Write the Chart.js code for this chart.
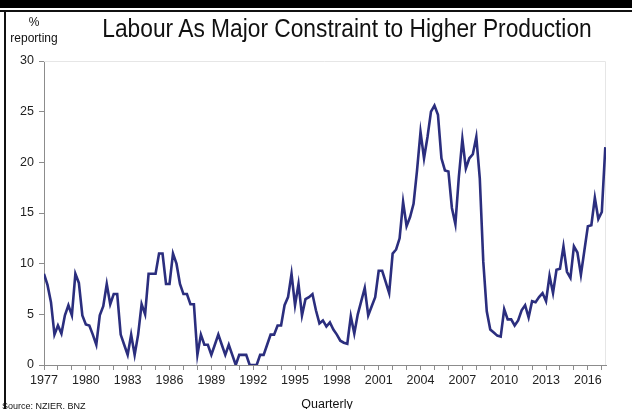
<!DOCTYPE html>
<html>
<head>
<meta charset="utf-8">
<script src="https://cdn.jsdelivr.net/npm/chart.js@4/dist/chart.umd.min.js"></script>
<style>
  html, body { margin: 0; padding: 0; background: #fff; }
  #wrap { position: relative; width: 632px; height: 409px; overflow: hidden; background: #fff;
          font-family: "Liberation Sans", Arial, sans-serif; }
  #chart { position: absolute; left: 0; top: 0; }
  .bar-top { position: absolute; left: 0; top: 0; width: 632px; height: 8px; background: #000; }
  .rule-top { position: absolute; left: 0; top: 10px; width: 632px; height: 2px; background: #111; }
  .rule-left { position: absolute; left: 4px; top: 10px; width: 2px; height: 399px; background: #111; }
  .txt { position: absolute; white-space: nowrap; color: #111; }
  #title { left: 347px; top: 14px; font-size: 25px; transform: translateX(-50%) scaleX(0.91); transform-origin: center; }
  #unit1 { left: 34px; top: 15px; font-size: 12px; transform: translateX(-50%); }
  #unit2 { left: 34px; top: 31px; font-size: 12px; transform: translateX(-50%); }
  #xtitle { left: 327px; top: 397px; font-size: 12.5px; transform: translateX(-50%); }
  #source { left: 2px; top: 401px; font-size: 9px; }
</style>
</head>
<body>
<div id="wrap">
  <canvas id="chart" width="632" height="409"></canvas>
  <div class="bar-top"></div>
  <div class="rule-top"></div>
  <div class="rule-left"></div>
  <div class="txt" id="title">Labour As Major Constraint to Higher Production</div>
  <div class="txt" id="unit1">%</div>
  <div class="txt" id="unit2">reporting</div>
  <div class="txt" id="xtitle">Quarterly</div>
  <div class="txt" id="source">Source: NZIER, BNZ</div>
</div>
<script>
// Quarterly series starting 1977 Q1: % of firms reporting labour as the main constraint
const startYear = 1977;
const labourConstraint = [
  9.0, 7.9, 6.2, 3.0, 3.9, 3.1, 4.9, 5.9, 4.9, 9.0, 8.1, 4.9,
  4.0, 3.9, 3.0, 2.0, 4.9, 5.8, 8.0, 6.0, 7.0, 7.0, 3.0, 2.0,
  1.0, 3.0, 1.0, 3.0, 6.0, 5.0, 9.0, 9.0, 9.0, 11.0, 11.0, 8.0,
  8.0, 11.0, 10.0, 8.0, 7.0, 7.0, 6.0, 6.0, 1.0, 3.0, 2.0, 2.0,
  1.0, 2.0, 3.0, 2.0, 1.0, 2.0, 1.0, 0.0, 1.0, 1.0, 1.0, 0.0,
  0.0, 0.0, 1.0, 1.0, 2.0, 3.0, 3.0, 3.9, 3.9, 5.9, 6.7, 9.0,
  5.9, 8.0, 4.9, 6.5, 6.7, 7.0, 5.4, 4.1, 4.4, 3.8, 4.2, 3.5,
  3.0, 2.4, 2.2, 2.1, 4.8, 3.1, 5.0, 6.3, 7.6, 4.9, 5.8, 6.7,
  9.3, 9.3, 8.2, 7.1, 11.0, 11.4, 12.5, 16.1, 13.7, 14.6, 15.9, 19.2,
  23.0, 20.4, 22.5, 25.0, 25.6, 24.7, 20.4, 19.2, 19.1, 15.5, 13.9, 18.6,
  22.3, 19.4, 20.4, 20.8, 22.5, 18.4, 10.2, 5.3, 3.5, 3.2, 2.9, 2.8,
  5.5, 4.5, 4.5, 3.9, 4.4, 5.4, 5.9, 4.7, 6.3, 6.2, 6.7, 7.1,
  6.3, 8.8, 7.1, 9.4, 9.5, 11.7, 9.2, 8.6, 11.7, 11.1, 8.9, 11.3,
  13.7, 13.8, 16.5, 14.4, 15.1, 21.5
];
// Year tick marks (one per year) and the labelled years (every third year)
const yearTicks = [];
for (let y = 1977; y <= 2017; y++) yearTicks.push(y);
const labelledYears = [1977, 1980, 1983, 1986, 1989, 1992, 1995, 1998, 2001, 2004, 2007, 2010, 2013, 2016];
const yTicks = [0, 5, 10, 15, 20, 25, 30];

const points = labourConstraint.map((v, i) => ({ x: startYear + i / 4, y: v }));

const frame = {
  id: 'frame',
  beforeDatasetsDraw(chart) {
    const { ctx, chartArea: a } = chart;
    ctx.save();
    ctx.strokeStyle = '#e6e6e6';
    ctx.lineWidth = 1;
    ctx.beginPath();
    ctx.moveTo(a.left, a.top + 0.5);
    ctx.lineTo(a.right - 0.5, a.top + 0.5);
    ctx.lineTo(a.right - 0.5, a.bottom);
    ctx.stroke();
    ctx.restore();
  }
};

const tickFont = { family: '"Liberation Sans", Arial, sans-serif', size: 12.5 };

new Chart(document.getElementById('chart'), {
  type: 'line',
  data: {
    datasets: [{
      data: points,
      borderColor: '#2b2e7e',
      borderWidth: 2.6,
      pointRadius: 0,
      tension: 0,
      fill: false
    }]
  },
  options: {
    responsive: false,
    animation: false,
    events: [],
    layout: { padding: { left: 0, top: 61, right: 26, bottom: 0 } },
    plugins: { legend: { display: false }, tooltip: { enabled: false } },
    scales: {
      x: {
        type: 'linear',
        min: 1977,
        max: 2017.3,
        afterBuildTicks: axis => { axis.ticks = yearTicks.map(v => ({ value: v })); },
        afterFit: s => { s.height = 44; },
        grid: { drawOnChartArea: false, drawTicks: true, tickLength: 5, color: '#8c8c8c' },
        border: { color: '#8c8c8c', width: 1 },
        ticks: {
          autoSkip: false, maxRotation: 0, padding: 3, color: '#222', font: tickFont,
          callback: v => labelledYears.includes(v) ? String(v) : ''
        }
      },
      y: {
        min: 0,
        max: 30,
        afterBuildTicks: axis => { axis.ticks = yTicks.map(v => ({ value: v })); },
        afterFit: s => { s.width = 44; },
        grid: { drawOnChartArea: false, drawTicks: true, tickLength: 5, color: '#8c8c8c' },
        border: { color: '#8c8c8c', width: 1 },
        ticks: { padding: 5, color: '#222', font: tickFont }
      }
    }
  },
  plugins: [frame]
});
</script>
</body>
</html>
